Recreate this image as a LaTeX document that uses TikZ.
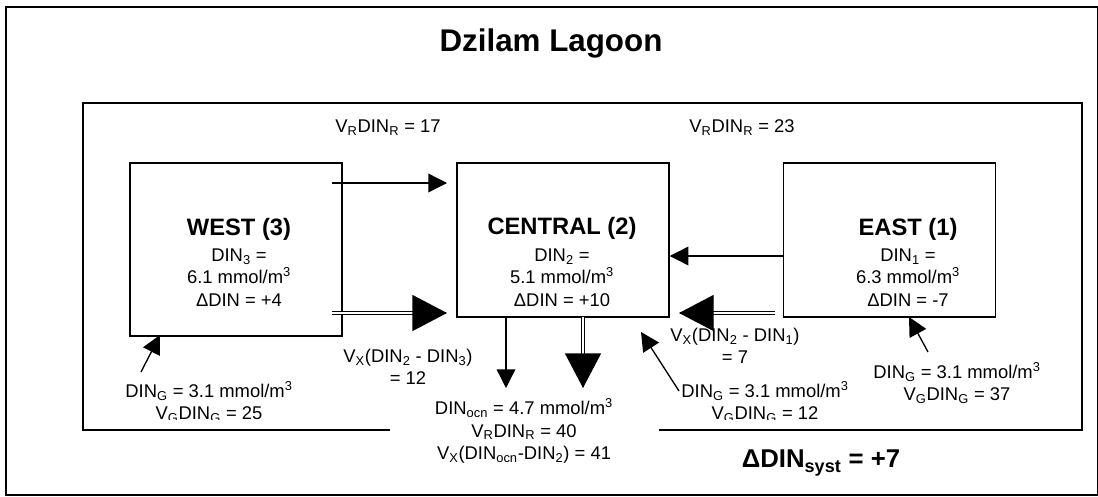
\documentclass[tikz,border=0pt]{standalone}
\usepackage{fontspec}
\setmainfont{Liberation Sans}
\usetikzlibrary{arrows.meta,calc}
\newcommand{\sub}[1]{\textsubscript{#1}}

\begin{document}
\begin{tikzpicture}[x=0.75pt, y=-0.75pt,
  region/.style={draw, line width=1.1pt, minimum width=159pt, minimum height=115.5pt},
  regtxt/.style={align=center, font=\fontsize{13.8}{16.8}\selectfont, inner sep=0pt},
  lbl/.style={align=center, font=\fontsize{13.8}{16.6}\selectfont, inner sep=0pt},
  arr/.style={-{Triangle[length=14pt,width=14pt]}, line width=1pt},
  bigarr/.style={-{Triangle[length=26pt,width=27pt]}, line width=1pt},
  dbl/.style={double, double distance=1.6pt, line width=0.9pt, shorten >=22pt}]

\useasboundingbox (0,0) rectangle (1098,496);
\draw[line width=1.1pt] (6,7) rectangle (1097.5,495);
\node[font=\fontsize{23.5}{28}\selectfont\bfseries] (title) at (551,43) {Dzilam Lagoon};
% lagoon outline, open where the ocean box sits
\draw[line width=1.1pt] (390,430) -| (83,103) -| (1082,430) -- (659,430);

% the three boxes
\node[region, minimum height=129.75pt] (west) at (236,249.5) {};
\node[region] (central) at (563,240) {};
\node[region] (east) at (889.5,240) {};

\node[regtxt] (westtxt) at (239,262) {{\bfseries\fontsize{17.8}{21}\selectfont WEST (3)}\\[3pt]DIN\sub{3} =\\6.1 mmol/m\textsuperscript{3}\\ΔDIN = +4};
\node[regtxt] (centraltxt) at (562,262) {{\bfseries\fontsize{17.8}{21}\selectfont CENTRAL (2)}\\[3pt]DIN\sub{2} =\\5.1 mmol/m\textsuperscript{3}\\ΔDIN = +10};
\node[regtxt] (easttxt) at (908,262) {{\bfseries\fontsize{17.8}{21}\selectfont EAST (1)}\\[3pt]DIN\sub{1} =\\6.3 mmol/m\textsuperscript{3}\\ΔDIN = -7};

% fluxes
\node[lbl] (vr17) at (388,128) {V\sub{R}DIN\sub{R} = 17};
\node[lbl] (vr23) at (742,128) {V\sub{R}DIN\sub{R} = 23};
\node[lbl] (vx23) at (408,367) {V\sub{X}(DIN\sub{2} - DIN\sub{3})\\= 12};
\node[lbl] (vx21) at (735,346) {V\sub{X}(DIN\sub{2} - DIN\sub{1})\\= 7};
\node[lbl] (gw1) at (957,383) {DIN\sub{G} = 3.1 mmol/m\textsuperscript{3}\\V\sub{G}DIN\sub{G} = 37};
\begin{scope}
  \clip (0,0) rectangle (1098,419);
  \node[lbl] (gw3) at (209,402) {DIN\sub{G} = 3.1 mmol/m\textsuperscript{3}\\V\sub{G}DIN\sub{G} = 25};
  \node[lbl] (gw2) at (765,402) {DIN\sub{G} = 3.1 mmol/m\textsuperscript{3}\\V\sub{G}DIN\sub{G} = 12};
\end{scope}
\node[lbl] (ocn) at (524,431) {DIN\sub{ocn} = 4.7 mmol/m\textsuperscript{3}\\V\sub{R}DIN\sub{R} = 40\\V\sub{X}(DIN\sub{ocn}-DIN\sub{2}) = 41};
\node[font=\fontsize{19.3}{23}\selectfont\bfseries] (syst) at (821,463) {ΔDIN\sub{syst} = +7};

\coordinate (w-a) at (332,183);
\coordinate (c-a) at (447,183);
\coordinate (w-b) at (332,313);
\coordinate (c-b) at (447,313);
\coordinate (e-b) at (775,313);
\coordinate (c-c) at (679,313);
\coordinate (c-d) at (506,317);
\coordinate (o-d) at (506,388);
\coordinate (c-e) at (583,317);
\coordinate (o-e) at (583,388);
\coordinate (g3) at (141,372);
\coordinate (w-g) at (160,335);
\coordinate (g2) at (679,391);
\coordinate (c-g) at (641,332);
\coordinate (g1) at (928,352);
\coordinate (e-g) at (909,317);

\draw[arr] (w-a) -- (c-a);
\draw[dbl] (w-b) -- (c-b);
\draw[bigarr] ([xshift=-1pt]c-b) -- (c-b);
\draw[arr] ([yshift=-12pt]east.west) -- ([yshift=-12pt]central.east);
\draw[dbl] (e-b) -- (c-c);
\draw[bigarr] ([xshift=1pt]c-c) -- (c-c);
\draw[arr] (c-d) -- (o-d);
\draw[dbl] (c-e) -- (o-e);
\draw[bigarr] ([yshift=1pt]o-e) -- (o-e);
\draw[arr] (g3) -- (w-g);
\draw[arr] (g2) -- (c-g);
\draw[arr] (g1) -- (e-g);
\end{tikzpicture}
\end{document}
